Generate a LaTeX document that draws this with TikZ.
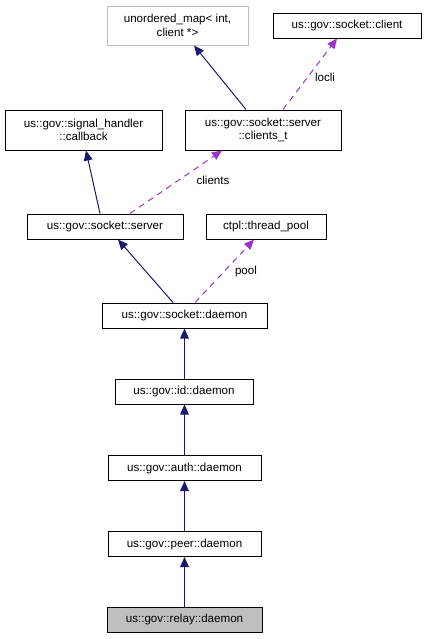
\documentclass[tikz,border=0pt]{standalone}
\usepackage{fontspec}
\setmainfont{Liberation Sans}
\usetikzlibrary{arrows.meta}
\definecolor{edgeblue}{HTML}{191970}
\definecolor{edgepurple}{HTML}{9A32CD}
\definecolor{boxgray}{HTML}{BFBFBF}
\tikzset{
	cls/.style = {draw = black, line width = 0.75pt, fill = white, inner sep = 0pt,
		minimum height = 18.75pt, align = center, font = \fontsize{8.7}{10}\selectfont},
	extcls/.style = {cls, draw = boxgray},
	curcls/.style = {cls, fill = boxgray},
	inherit/.style = {edgeblue, line width = 0.75pt, -{Triangle[length = 7.5pt, width = 6.5pt]}},
	usage/.style = {edgepurple, line width = 0.75pt, dash pattern = on 4.5pt off 3.75pt,
		-{Triangle[length = 7.5pt, width = 6.5pt]}},
	lbl/.style = {inner sep = 0pt, font = \fontsize{8.7}{10}\selectfont}
}
\begin{document}
\begin{tikzpicture} [x = 0.75pt, y = -0.75pt]
	\useasboundingbox (0,0) rectangle (429,639);
	% classes
	\node [extcls, minimum width = 105.75pt, minimum height = 29.25pt] (umap) at (177.5,25.5) {unordered\_map\textless{} int,\\client *\textgreater};
	\node [cls, minimum width = 111pt] (sclient) at (347,25.5) {us::gov::socket::client};
	\node [cls, minimum width = 117pt, minimum height = 30pt] (clients) at (263,130) {us::gov::socket::server\\::clients\_t};
	\node [cls, minimum width = 117.75pt, minimum height = 30pt] (callback) at (83.5,130) {us::gov::signal\_handler\\::callback};
	\node [cls, minimum width = 117pt] (server) at (105,226.5) {us::gov::socket::server};
	\node [cls, minimum width = 90pt] (pool) at (266,226.5) {ctpl::thread\_pool};
	\node [cls, minimum width = 123.75pt] (sdaemon) at (184.5,315.5) {us::gov::socket::daemon};
	\node [cls, minimum width = 103.5pt] (iddaemon) at (184,391.5) {us::gov::id::daemon};
	\node [cls, minimum width = 114.75pt] (authdaemon) at (184.5,468) {us::gov::auth::daemon};
	\node [cls, minimum width = 114.75pt] (peerdaemon) at (184.5,544) {us::gov::peer::daemon};
	\node [curcls, minimum width = 116.25pt] (relaydaemon) at (184.5,619.5) {us::gov::relay::daemon};
	% inheritance
	\draw [inherit] ([xshift = -12.75pt]clients.north) -- ([xshift = 12.4pt]umap.south);
	\draw [inherit] ([xshift = -3.75pt]server.north) -- ([xshift = 1.9pt]callback.south);
	\draw [inherit] ([xshift = -8.6pt]sdaemon.north) -- ([xshift = 9.75pt]server.south);
	\draw [inherit] (iddaemon.north -| sdaemon.south) -- (sdaemon.south);
	\draw [inherit] (authdaemon.north) -- (authdaemon.north |- iddaemon.south);
	\draw [inherit] (peerdaemon.north) -- (authdaemon.south);
	\draw [inherit] (relaydaemon.north) -- (peerdaemon.south);
	% members
	\draw [usage] ([xshift = 15pt]clients.north) -- ([xshift = -7.5pt]sclient.south);
	\draw [usage] ([xshift = 18.75pt]server.north) -- ([xshift = -30.75pt]clients.south);
	\draw [usage] ([xshift = 7.9pt]sdaemon.north) -- ([xshift = -9pt]pool.south);
	\node [lbl] (locli) at (325,77) {locli};
	\node [lbl] (clientslbl) at (213,180) {clients};
	\node [lbl] (poollbl) at (246,271) {pool};
\end{tikzpicture}
\end{document}
